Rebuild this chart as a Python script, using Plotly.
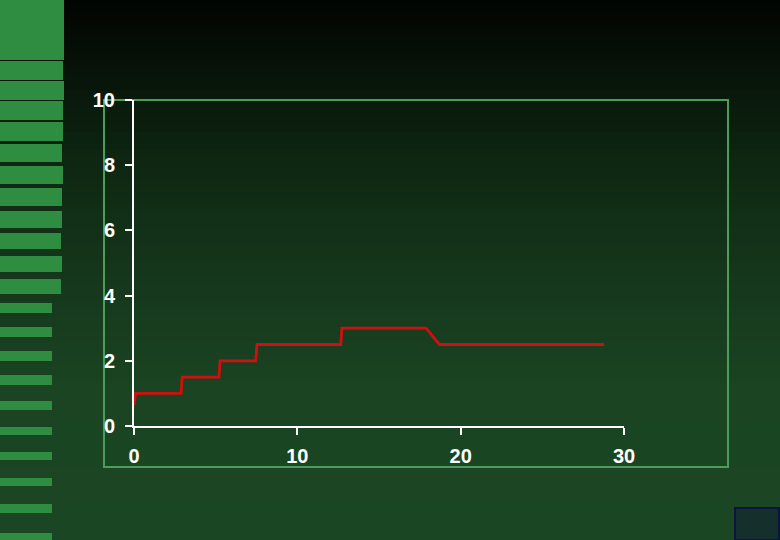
import plotly.graph_objects as go

# step curve
step_x = [0, 0.1, 2.88, 2.95, 5.2, 5.27, 7.45, 7.53, 12.66, 12.73, 17.88, 18.7, 28.78]
step_y = [0.65, 1.0, 1.0, 1.5, 1.5, 2.0, 2.0, 2.5, 2.5, 3.0, 3.0, 2.5, 2.5]

x_ticks = [0, 10, 20, 30]
y_ticks = [0, 2, 4, 6, 8, 10]

W, H = 780, 540


def px_x(p):
    return p / W


def px_y(p):
    return 1 - p / H


def lerp_color(y):
    # vertical background gradient, black at the top to dark green at the bottom
    stops = [(0, (1, 4, 1)), (160, (14, 38, 18)), (270, (21, 54, 27)),
             (390, (26, 68, 34)), (540, (27, 70, 36))]
    for (y0, c0), (y1, c1) in zip(stops[:-1], stops[1:]):
        if y0 <= y <= y1:
            t = (y - y0) / (y1 - y0)
            c = [round(a + (b - a) * t) for a, b in zip(c0, c1)]
            return "rgb(%d,%d,%d)" % tuple(c)
    return "rgb(27,70,36)"


shapes = []

# background bands
band = 6
for y in range(0, H, band):
    shapes.append(dict(type="rect", xref="paper", yref="paper", layer="below",
                       x0=0, x1=1, y0=px_y(y + band), y1=px_y(y),
                       fillcolor=lerp_color(y + band / 2), line_width=0))

# left-hand stripes (top, bottom, right edge) in pixels
stripes = [(0, 60, 64), (61, 80, 63), (81, 100, 64), (101, 120, 63),
           (122, 141, 63), (144, 162, 62), (166, 184, 63), (188, 206, 62),
           (211, 228, 62), (233, 249, 61), (256, 272, 62), (279, 294, 61),
           (303, 313, 52), (327, 337, 52), (351, 361, 52), (375, 385, 52),
           (401, 410, 52), (427, 435, 52), (452, 460, 52), (478, 486, 52),
           (504, 513, 52), (533, 540, 52)]
for t, b, r in stripes:
    shapes.append(dict(type="rect", xref="paper", yref="paper", layer="below",
                       x0=0, x1=px_x(r), y0=px_y(b), y1=px_y(t),
                       fillcolor="#2f8d42", line_width=0))

# chart frame
shapes.append(dict(type="rect", xref="paper", yref="paper", layer="below",
                   x0=px_x(104), x1=px_x(728), y0=px_y(467), y1=px_y(100),
                   fillcolor="rgba(0,0,0,0)", line=dict(color="#4a9e5a", width=2)))

# small box in the bottom-right corner
shapes.append(dict(type="rect", xref="paper", yref="paper",
                   x0=px_x(735), x1=px_x(779), y0=px_y(540), y1=px_y(508),
                   fillcolor="#15302c", line=dict(color="#0c1440", width=2)))

fig = go.Figure()
fig.add_trace(go.Scatter(x=step_x, y=step_y, mode="lines",
                         line=dict(color="#d01010", width=2.8),
                         cliponaxis=False, hoverinfo="skip"))

tick_font = dict(family="Liberation Sans, Arial", size=20, color="white", weight="bold")

fig.update_layout(
    width=W, height=H,
    margin=dict(l=0, r=0, t=0, b=0),
    paper_bgcolor="black",
    plot_bgcolor="rgba(0,0,0,0)",
    showlegend=False,
    shapes=shapes,
    xaxis=dict(domain=[px_x(134), px_x(624)], range=[0, 30],
               tickvals=x_ticks, ticktext=[str(v) for v in x_ticks],
               showgrid=False, zeroline=False, showline=True,
               linecolor="white", linewidth=2, ticks="outside",
               ticklen=7, tickwidth=2, tickcolor="white",
               tickfont=tick_font, ticklabelstandoff=4, automargin=False),
    yaxis=dict(domain=[1 - 426 / H, 1 - 100 / H], range=[0, 10],
               tickvals=y_ticks, ticktext=[str(v) for v in y_ticks],
               showgrid=False, zeroline=False, showline=True,
               linecolor="white", linewidth=2, ticks="outside",
               ticklen=7, tickwidth=2, tickcolor="white",
               tickfont=tick_font, ticklabelstandoff=6, automargin=False),
)

# drop the default page margin so the figure sits at the window's corner
fig.write_html("out.html", config={"displayModeBar": False},
               post_script="document.body.style.margin='0';")
